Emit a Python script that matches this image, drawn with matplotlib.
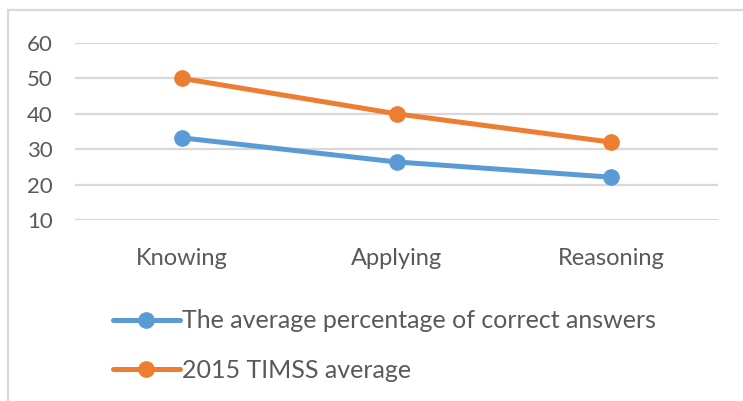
import matplotlib.pyplot as plt
from matplotlib.lines import Line2D

# ── data ───────────────────────────────────────────────────────────
categories = ['Knowing', 'Applying', 'Reasoning']
correct_pct = [33.2, 26.4, 22.1]
timss_avg = [50.0, 40.0, 32.0]
series_names = ['The average percentage of correct answers', '2015 TIMSS average']
y_ticks = [10, 20, 30, 40, 50, 60]

BLUE = '#5B9BD5'
ORANGE = '#ED7D31'
GRID = '#D9D9D9'
TEXT = '#595959'

plt.rcParams['font.family'] = ['Lato', 'DejaVu Sans']

W, H = 743, 401
fig = plt.figure(figsize=(W / 100, H / 100), dpi=100)
ax = fig.add_axes([75 / W, 1 - 220 / H, 643 / W, 177 / H])

x = range(len(categories))
for vals, col, name in [(correct_pct, BLUE, series_names[0]),
                        (timss_avg, ORANGE, series_names[1])]:
    ax.plot(x, vals, color=col, linewidth=3.6, marker='o', markersize=11,
            solid_capstyle='round', label=name, zorder=3)

ax.set_xlim(-0.5, len(categories) - 0.5)
ax.set_ylim(10, 60)
ax.set_yticks(y_ticks)
ax.set_xticks(list(x))
ax.set_xticklabels(categories)
ax.yaxis.grid(True, color=GRID, linewidth=1.6)
ax.set_axisbelow(True)
for s in ax.spines.values():
    s.set_visible(False)
ax.tick_params(axis='y', length=0, labelsize=16, colors=TEXT, pad=16)
ax.tick_params(axis='x', length=0, labelsize=17, colors=TEXT, pad=20)

# legend (manual placement below plot)
handles = [Line2D([], [], color=c, linewidth=3.6, marker='o', markersize=11,
                  solid_capstyle='round') for c in (BLUE, ORANGE)]
leg = fig.legend(handles, series_names, loc='upper left',
                 bbox_to_anchor=(100 / W, 1 - 297 / H), frameon=False,
                 fontsize=18, handlelength=2.7, handletextpad=0.1,
                 labelspacing=1.05, borderpad=0)
for t in leg.get_texts():
    t.set_color(TEXT)

# chart-area frame (partly cropped in the original)
fig.add_artist(Line2D([8 / W, 1], [1 - 10 / H] * 2, transform=fig.transFigure,
                      color=GRID, linewidth=1.6))
fig.add_artist(Line2D([8 / W] * 2, [0, 1 - 10 / H], transform=fig.transFigure,
                      color=GRID, linewidth=1.6))

fig.savefig('out.png', dpi=100, facecolor='white')
